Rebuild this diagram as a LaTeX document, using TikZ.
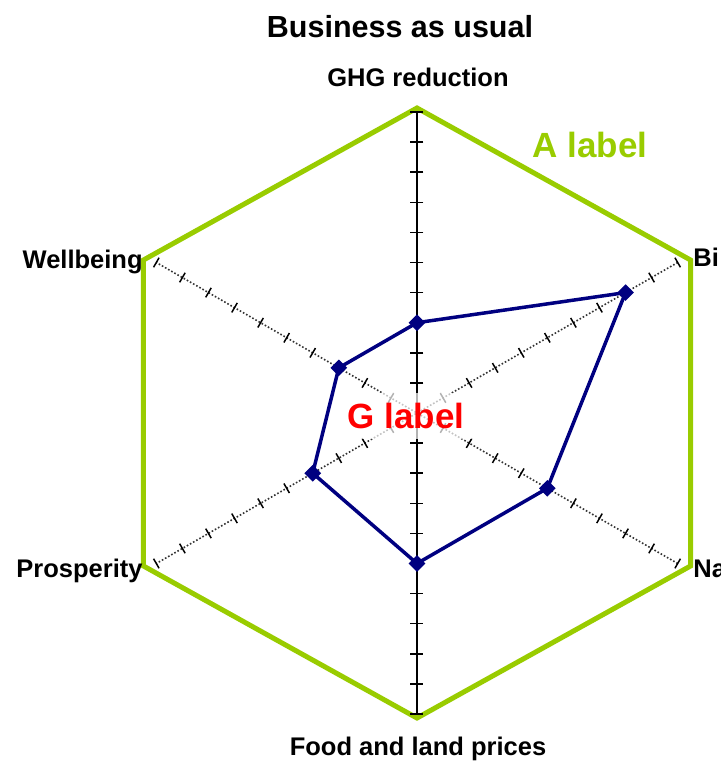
\documentclass[tikz,border=0pt]{standalone}
\usepackage{fontspec}
\setmainfont{Liberation Sans}
\usetikzlibrary{shapes.geometric}
\definecolor{hexgreen}{RGB}{153,204,0}
\definecolor{datanavy}{RGB}{0,0,128}
\begin{document}
\begin{tikzpicture}[x=0.5pt, y=0.5pt,
  axis/.style = {black, line width=0.75pt},
  diag/.style = {black!80, line width=0.8pt, densely dotted},
  tick/.style = {black, line width=0.75pt},
  hexa/.style = {hexgreen, line width=2.5pt, line join=miter},
  data/.style = {datanavy, line width=1.75pt, line join=round},
  dot/.style = {diamond, fill=datanavy, inner sep=0pt, minimum size=8.5pt},
  lab/.style = {font=\bfseries\fontsize{12.75}{15}\selectfont, inner sep=0pt},
  big/.style = {font=\bfseries\fontsize{17.5}{20}\selectfont, inner sep=0pt}]
\useasboundingbox (-417,-348) rectangle (303,413);

\coordinate (h1) at (0,305);
\coordinate (h2) at (273.5,153);
\coordinate (h3) at (273.5,-153);
\coordinate (h4) at (0,-305);
\coordinate (h5) at (-273.5,-153);
\coordinate (h6) at (-273.5,153);
\draw[hexa] (h1) -- (h2) -- (h3) -- (h4) -- (h5) -- (h6) -- cycle;

\coordinate (a1) at (90:301);
\coordinate (a2) at (30:301);
\coordinate (a3) at (-30:301);
\coordinate (a4) at (-90:301);
\coordinate (a5) at (210:301);
\coordinate (a6) at (150:301);
\draw[axis] (a1) -- (a4);
\draw[diag] (a2) -- (a5);
\draw[diag] (a3) -- (a6);
\foreach \a in {90,-90}
  \foreach \i in {1,...,10}
    \draw[tick, rotate=\a] (\i*30.1,-6.5) -- (\i*30.1,6.5);
\foreach \a in {30,150,210,330}
  \foreach \i in {1,...,10}
    \draw[tick, rotate=\a] (\i*30.1,-5.5) -- (\i*30.1,5.5);

\node[big, red, fill=white, fill opacity=0.7, text opacity=1, inner sep=5pt] (glabel) at (-11,-3) {G label};

\coordinate (ghg) at (90:3*30.1);
\coordinate (bio) at (30:8*30.1);
\coordinate (nat) at (-30:5*30.1);
\coordinate (food) at (-90:5*30.1);
\coordinate (pros) at (210:4*30.1);
\coordinate (well) at (150:3*30.1);
\draw[data] (ghg) -- (bio) -- (nat) -- (food) -- (pros) -- (well) -- cycle;
\foreach \p in {ghg,bio,nat,food,pros,well}
  \node[dot] (d\p) at (\p) {};

\node[lab, font=\bfseries\fontsize{15.25}{18}\selectfont, anchor=base] (title) at (-17,376) {Business as usual};
\node[lab, anchor=base] (t1) at (1,327) {GHG reduction};
\node[lab, anchor=base west] (t2) at (276,147) {Bi};
\node[lab, anchor=base west] (t3) at (276,-164) {Na};
\node[lab, anchor=base] (t4) at (1,-342) {Food and land prices};
\node[lab, anchor=base east] (t5) at (-274,-164) {Prosperity};
\node[lab, anchor=base east] (t6) at (-274,145) {Wellbeing};
\node[big, hexgreen, anchor=base] (alabel) at (173,256) {A label};

\end{tikzpicture}
\end{document}
